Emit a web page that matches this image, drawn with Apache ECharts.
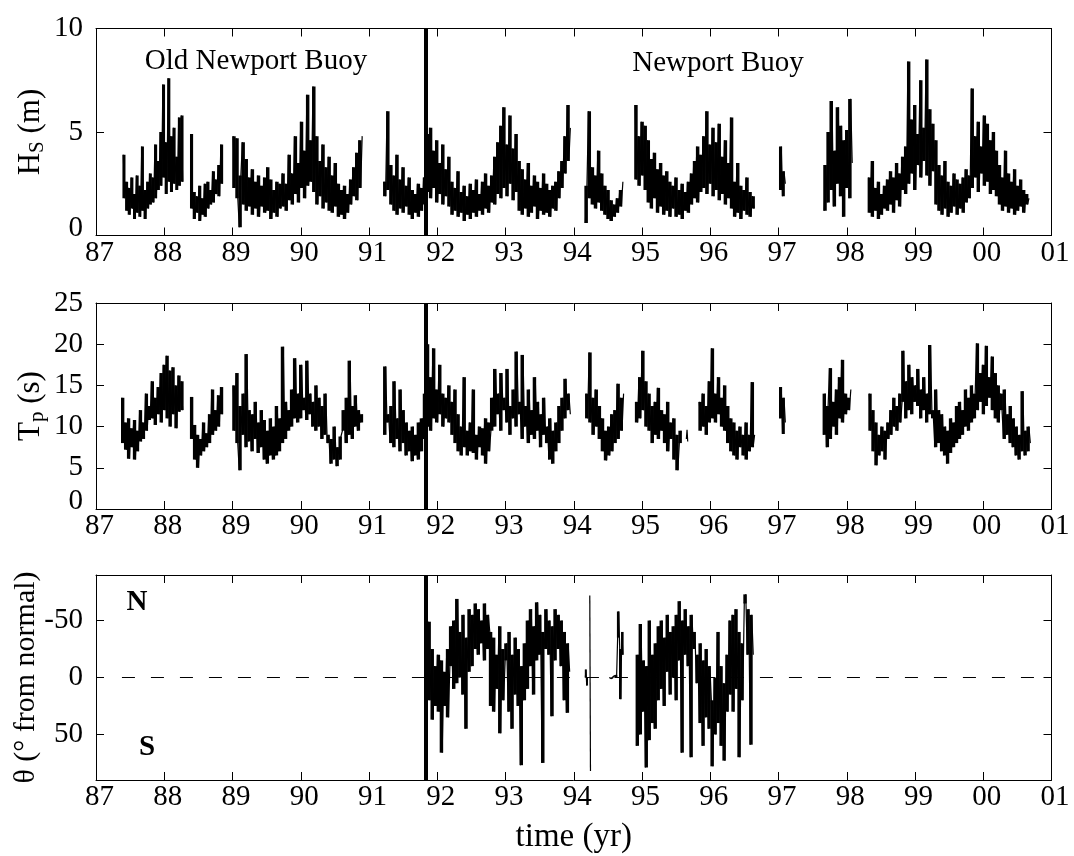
<!DOCTYPE html>
<html><head><meta charset="utf-8">
<script src="https://cdn.jsdelivr.net/npm/echarts@6/dist/echarts.min.js"></script>
<style>html,body{margin:0;padding:0;background:#fff}#c{width:1074px;height:856px}</style>
</head><body><div id="c"></div>
<script>
// ---- time axis ----
const yearMin = 87, yearMax = 101;
const buoySwitchYear = 91.83;

// ---- Hs (m): segment spans [start, end] in years and the sampled values ----
const hsSpans = [[87.40,88.27],[88.39,88.85],[89.01,90.90],[91.22,93.95],[94.17,94.72],[94.90,96.64],[97.02,97.10],[97.67,98.08],[98.32,100.67]];
const hs1 = [3.9,1.8,2.6,1.2,2.3,1.0,2.8,1.3,2.0,0.8,2.9,1.1,2.4,0.9,4.3,1.2,2.2,0.8,2.6,1.3,3.0,1.5,2.8,1.6,4.4,1.8,3.6,2.2,5.0,2.4,7.3,2.8,4.5,2.0,7.6,2.6,4.8,2.1,5.2,2.5,3.8,2.2,5.7,2.4,5.8,2.6];
const hs2 = [4.9,1.3,2.1,0.8,1.9,1.1,2.4,0.7,1.8,1.0,2.5,0.9,2.6,1.3,2.2,1.5,3.1,1.6,2.7,2.0,3.4,1.9,4.4,2.5];
const hs3 = [4.8,2.3,4.7,1.8,0.4,2.9,4.5,1.5,3.7,1.2,2.8,1.4,3.2,1.0,2.6,1.3,2.9,0.9,2.4,1.4,2.8,1.1,3.3,1.2,2.7,0.8,2.2,1.1,2.6,0.9,2.5,1.3,3.0,1.4,2.5,1.2,3.9,1.7,3.0,1.5,4.8,2.0,3.5,1.6,5.5,2.3,4.1,1.8,6.8,2.4,4.6,2.6,7.2,2.1,4.8,1.5,3.6,1.9,4.4,1.3,3.3,1.6,3.8,1.2,2.9,1.1,3.5,1.4,2.5,0.9,2.2,1.0,2.4,0.8,2.0,1.1,2.7,1.5,3.3,1.9,4.0,1.7,4.6,2.3,4.8];
const hs4 = [2.6,1.9,6.0,2.2,3.4,1.5,2.9,1.2,3.9,1.0,2.7,1.3,3.3,1.1,2.4,1.4,2.8,
  1.0,2.2,0.8,2.0,1.1,2.5,0.9,2.3,1.2,2.8,1.5,
  4.9,2.1,5.2,1.8,4.1,2.3,4.6,1.6,3.5,2.0,4.4,1.5,3.2,1.9,3.8,1.4,
  2.6,1.0,2.3,1.2,3.1,0.9,2.1,1.1,2.4,0.7,1.9,1.0,2.5,0.8,2.2,1.1,2.7,0.9,2.0,1.2,2.6,1.0,3.0,1.3,2.4,1.1,2.9,
  1.6,3.8,1.5,4.5,2.0,5.3,1.8,6.2,2.3,4.4,1.9,5.8,2.5,4.2,1.7,4.9,2.1,3.6,
  1.2,3.2,1.0,2.7,1.3,3.5,0.9,2.4,1.1,2.9,1.4,2.6,0.8,2.3,1.2,3.0,1.0,2.5,
  1.1,2.2,0.9,2.4,1.3,2.6,1.2,3.1,1.8,3.6,2.3,4.8,3.0,6.3,3.6,5.2];
const hs5 = [0.6,2.4,6.0,1.8,3.3,1.5,2.9,1.3,4.1,1.6,3.0,1.2,2.4,1.0,2.2,0.8,1.7,0.7,1.5,0.9,1.8,1.1,2.2,1.4,2.6];
const hs6 = [6.3,2.7,4.8,2.4,5.5,2.9,5.3,2.2,4.6,
  1.6,3.7,1.3,4.0,1.8,3.2,1.1,3.5,1.4,2.9,1.0,3.1,1.2,2.6,0.9,2.4,1.3,2.8,
  0.9,2.2,1.0,2.5,0.8,2.1,1.2,2.6,1.1,
  3.0,1.5,3.6,1.8,4.3,1.6,3.9,2.1,4.8,2.3,6.0,2.0,4.4,2.5,
  5.2,1.9,4.5,2.2,5.4,1.7,3.8,2.0,4.6,1.5,3.5,1.8,5.7,
  1.3,2.6,0.9,3.5,1.1,2.4,0.8,2.2,1.2,2.8,1.0,2.1,0.9,1.9,1.3];
const hs7 = [2.2,4.3,1.9,3.1,2.5];
const hs8 = [1.2,3.4,1.6,5.0,2.2,6.5,1.4,4.1,2.5,6.2,1.9,5.3,0.9,4.6,2.3,5.1,1.8,6.6,3.5];
const hs9 = [2.8,1.1,3.6,0.9,2.3,1.2,2.6,0.8,2.0,1.0,2.4,1.3,2.7,
  1.2,3.1,1.5,2.8,1.1,3.5,1.7,3.0,1.4,3.8,2.2,4.3,2.0,
  8.4,2.5,5.6,3.0,6.3,2.2,4.9,3.4,7.5,2.8,5.2,3.6,8.5,2.9,6.1,2.4,5.4,3.1,4.6,
  1.5,3.4,1.2,2.9,1.0,3.6,1.3,2.6,0.9,2.4,1.1,3.0,1.4,2.7,
  1.0,2.5,1.3,2.8,1.1,3.2,1.6,2.9,1.8,
  7.1,2.3,4.8,2.8,5.5,2.1,4.3,3.0,5.8,2.4,5.4,2.6,4.6,2.0,5.0,2.2,4.1,1.9,
  3.4,1.5,2.8,1.2,4.1,1.4,3.0,1.1,2.6,1.3,3.2,1.0,2.4,1.2,2.7,1.4,2.2,1.1,2.0,1.5,1.8];
const hsValues = [hs1,hs2,hs3,hs4,hs5,hs6,hs7,hs8,hs9];

// ---- Tp (s) ----
const tpSpans = [[87.38,88.27],[88.39,88.85],[89.01,90.90],[91.22,93.95],[94.18,94.73],[94.91,95.57],[95.65,95.67],[95.84,96.65],[97.02,97.10],[97.66,98.06],[98.33,100.69]];
const tp1 = [13.5,8.0,10.5,7.2,11.0,6.1,9.8,7.5,10.8,6.0,9.5,7.0,12.0,8.2,10.5,8.5,14.0,9.5,12.5,10.8,15.5,11.0,13.5,10.2,14.8,11.5,16.5,10.5,17.5,12.0,18.6,11.0,16.8,10.0,17.2,11.5,15.0,9.8,16.2,11.8,15.5,12.0];
const tp2 = [13.6,8.5,10.2,6.0,9.0,5.0,8.5,6.5,10.5,7.0,9.2,7.5,11.5,8.0,14.5,9.0,12.0,9.5,13.8,10.0,14.8,11.5];
const tp3 = [15.0,9.5,16.5,8.0,4.7,12.5,9.0,
  14.0,7.5,18.8,8.2,12.0,7.0,11.5,8.5,13.0,6.8,10.5,7.5,12.0,6.0,10.8,5.5,9.5,6.5,11.0,6.0,
  10.0,6.5,12.5,7.0,11.0,8.0,19.7,8.5,13.0,9.5,12.0,10.0,14.5,11.0,
  18.3,10.5,14.0,11.0,17.5,12.0,13.5,10.8,18.0,11.5,14.0,10.0,13.0,
  9.5,15.0,10.0,13.5,8.5,12.5,9.0,14.0,8.0,
  9.0,5.5,8.5,6.0,10.0,5.2,7.5,6.0,8.8,
  9.5,12.0,8.0,13.5,9.0,18.0,8.5,12.5,10.0,13.8,9.5,12.0,10.5,11.5];
const tp4 = [9.0,17.3,10.5,11.5,8.0,12.5,7.5,15.5,8.5,11.0,7.0,14.5,8.0,12.0,6.5,10.5,7.0,
  9.5,5.8,10.0,6.5,9.0,6.0,10.5,7.0,11.0,8.5,14.0,
  20.0,10.0,16.0,9.5,19.5,11.0,14.5,10.5,17.5,11.5,14.0,10.0,13.5,11.0,15.0,10.5,
  13.0,9.0,14.5,8.0,11.5,7.0,10.0,6.5,16.0,7.5,9.5,6.5,10.5,7.0,14.5,6.8,9.0,6.0,10.0,7.5,9.8,6.5,11.0,5.5,10.5,7.0,9.5,
  13.5,10.0,17.0,11.5,14.0,9.5,16.5,12.0,13.5,10.5,17.0,9.0,12.5,11.0,14.5,10.0,19.1,11.5,
  13.0,8.5,18.7,10.0,12.5,8.0,14.5,9.0,12.0,8.5,16.0,9.5,13.0,7.5,11.5,9.0,13.5,8.0,
  10.0,6.0,11.0,5.5,9.5,7.0,10.5,8.0,12.5,9.5,13.5,11.0,15.8,12.0,14.0,11.5];
const tp5 = [14.0,11.0,19.0,10.5,13.5,9.0,14.5,10.0,12.5,8.5,11.0,7.0,9.5,5.9,10.0,6.5,11.5,7.0,12.0,8.0,15.2,8.5,13.5,9.5,14.0];
const tp6 = [13.0,10.5,16.0,11.0,19.2,12.0,15.5,10.0,14.0,9.5,12.5,8.0,13.0,9.0,14.7,8.5,12.0,9.5,11.5,8.0,13.0,7.0,10.5,8.5,11.0,6.0,9.0,4.7,8.0,9.5];
const tp7 = [8.5,9.6,8.2];
const tp8 = [13.0,9.5,14.0,10.0,12.5,9.0,15.5,10.5,19.5,11.0,14.0,10.5,16.0,11.5,13.5,10.0,15.0,9.5,12.5,8.0,11.0,7.0,10.5,6.5,9.5,6.0,10.0,7.5,9.0,6.5,10.5,6.0,9.0,7.0,15.4,7.5,9.0];
const tp9 = [11.0,14.8,9.1,13.5,10.5];
const tp10 = [9.0,14.0,7.5,12.5,17.1,8.5,13.0,10.0,14.5,9.0,16.0,11.0,18.1,10.5,14.0,11.5,13.5,12.0,14.5];
const tp11 = [14.0,9.5,12.0,7.0,10.5,5.3,9.0,6.5,10.0,7.0,9.5,6.0,10.5,
  8.5,12.0,9.0,13.5,10.0,12.5,9.5,14.0,10.5,13.0,
  19.2,11.0,15.5,12.0,17.5,11.5,16.0,13.0,15.0,12.5,17.0,11.0,14.5,12.0,16.0,10.5,14.0,11.5,19.9,12.0,
  11.0,7.5,14.5,8.0,12.0,7.0,11.5,6.5,10.0,5.5,9.5,6.8,11.0,7.5,10.5,8.0,
  12.5,8.5,13.0,9.0,12.0,10.0,14.5,9.5,13.5,10.5,15.0,11.0,14.0,
  20.1,12.0,16.5,13.0,17.5,11.5,19.8,12.5,16.0,13.5,18.5,12.0,16.5,11.0,15.0,10.5,14.0,
  12.0,8.5,14.5,9.0,11.5,8.0,12.5,7.5,11.0,
  6.5,10.0,6.0,9.0,7.0,14.3,6.5,9.5,7.0,10.0,8.0];
const tpValues = [tp1,tp2,tp3,tp4,tp5,tp6,tp7,tp8,tp9,tp10,tp11];

// ---- theta (deg from normal; negative = north) ----
const thSpans = [[91.87,93.94],[94.17,94.21],[94.235,94.245],[94.52,94.72],[94.92,96.63]];
const th1 = [-49,20,-25,37,-10,25,
  -20,30,-15,66,-5,25,-25,35,-10,
  -45,10,-50,5,-69,0,-40,15,-55,45,-35,-5,-60,-10,
  -55,-25,-65,-20,-60,-30,-50,-15,-65,-25,-55,
  -40,25,-35,30,-20,10,-45,49,-25,20,-15,
  -30,30,-40,45,-20,15,-35,25,-25,77,-10,20,-30,10,
  -50,-10,-60,15,-45,-15,-66,-20,-55,75,-40,-25,-60,-20,
  -50,34,-45,-15,-60,-25,-55,-10,-50,20,-40,31,-30,-5];
const th2 = [0,-7,7,0,0];
const th3 = [-72,82];
const th4 = [0,0,1,0,-1,0,-2,0,-35,-58,-25,19,-40,-20];
const th5 = [60,-20,50,-47,
  30,-15,79,-10,55,-50,40,-20,45,
  -30,20,-45,10,-50,25,-35,-5,-55,15,-40,0,-45,20,
  -55,-15,-67,66,-50,-20,-60,-10,-45,70,-55,-25,-40,5,
  -20,40,-30,60,-15,35,-25,45,-10,
  20,78,0,50,-40,40,-10,60,5,73,-20,30,-50,15,
  -55,30,-60,10,-40,70,-30,20,-65,
  -73,-20,-60,59,-55,-20];
const thValues = [th1,th2,th3,th4,th5];

// ---- axis labels / texts ----
const thTicks = [-50,0,50];
const hsName = '{m|H}{sub|S}{m| (m)}';
const tpName = '{m|T}{sub|p}{m| (s)}';
const thName = '{m|θ (° from normal)}';
const xName = 'time (yr)';
const panelTexts = ['Old Newport Buoy','Newport Buoy'];
const dirTexts = ['N','S'];

const FONT = 'Liberation Serif';
const BLACK = '#000';
const DATA_WIDTH = 1.2;

function buildPoints(spans, values) {
  return spans.map((s, k) => {
    const v = values[k], n = v.length;
    return v.map((y, i) => [n > 1 ? s[0] + i * (s[1] - s[0]) / (n - 1) : s[0], y]);
  });
}
// range covered by each consecutive pair of samples: [x, low, high]
function pairRanges(pts) {
  const out = [];
  for (let j = 0; j + 1 < pts.length; j += 2) {
    const a = pts[j], b = pts[j + 1];
    out.push([(a[0] + b[0]) / 2, Math.min(a[1], b[1]), Math.max(a[1], b[1])]);
  }
  return out;
}

const gridDefs = [
  {left: 96, right: 22.5, top: 28.5, height: 207},
  {left: 96, right: 22.5, top: 303, height: 206},
  {left: 96, right: 22.5, top: 575, height: 205}
];

const xLabelFmt = v => { const y = Math.round(v) % 100; return (y < 10 ? '0' : '') + y; };
const yLabelFmt = v => v === 0 ? '{z|0}' : '{n|' + v + '}';
const labelRich = {
  n: {fontFamily: FONT, fontSize: 29, color: BLACK},
  z: {fontFamily: FONT, fontSize: 29, color: BLACK, padding: [0,0,15,0]}
};

const xAxes = [], yAxes = [];
for (let g = 0; g < 3; g++) {
  const base = {
    type: 'value', gridIndex: g, min: yearMin, max: yearMax, interval: 1,
    axisLine: {show: true, onZero: false, lineStyle: {color: BLACK, width: 1}},
    axisTick: {show: true, inside: true, length: 8, lineStyle: {color: BLACK, width: 1}},
    splitLine: {show: false}
  };
  xAxes.push(Object.assign({}, base, {
    position: 'bottom',
    axisLabel: {show: true, formatter: xLabelFmt, fontFamily: FONT, fontSize: 29, color: BLACK, margin: 3, padding: [0,0,0,7]},
    name: g === 2 ? xName : '', nameLocation: 'middle', nameGap: 41, nameMoveOverlap: false,
    nameTextStyle: {fontFamily: FONT, fontSize: 33, color: BLACK}
  }));
  xAxes.push(Object.assign({}, base, {position: 'top', axisLabel: {show: false}}));
}
function yPair(g, opts, name, nameGap, nameRich) {
  const common = {
    type: 'value', gridIndex: g,
    axisLine: {show: true, onZero: false, lineStyle: {color: BLACK, width: 1}},
    splitLine: {show: false}
  };
  const left = Object.assign({}, common, opts, {
    position: 'left',
    axisTick: Object.assign({show: true, inside: true, length: 8, lineStyle: {color: BLACK}}, opts.tickExtra || {}),
    axisLabel: Object.assign({show: true, fontFamily: FONT, fontSize: 29, color: BLACK, margin: 13, formatter: yLabelFmt,
      rich: labelRich}, opts.labelExtra || {}),
    name: name, nameLocation: 'middle', nameGap: nameGap, nameMoveOverlap: false,
    nameTextStyle: {fontFamily: FONT, fontSize: 31, color: BLACK, rich: nameRich}
  });
  const right = Object.assign({}, common, opts, {
    position: 'right',
    axisTick: Object.assign({show: true, inside: true, length: 8, lineStyle: {color: BLACK}}, opts.tickExtra || {}),
    axisLabel: Object.assign({show: false}, opts.labelExtra ? {customValues: opts.labelExtra.customValues} : {})
  });
  delete left.tickExtra; delete left.labelExtra; delete right.tickExtra; delete right.labelExtra;
  return [left, right];
}
const subRich = {
  m: {fontFamily: FONT, fontSize: 31, color: BLACK},
  sub: {fontFamily: FONT, fontSize: 21, color: BLACK, padding: [14,0,0,0]}
};
const plainRich = {m: {fontFamily: FONT, fontSize: 30, color: BLACK}};
yAxes.push(...yPair(0, {min: 0, max: 10, interval: 5}, hsName, 48, subRich));
yAxes.push(...yPair(1, {min: 0, max: 25, interval: 5}, tpName, 48, subRich));
yAxes.push(...yPair(2, {min: -90, max: 90, inverse: true,
  tickExtra: {customValues: thTicks},
  labelExtra: {customValues: thTicks, formatter: v => '{n|' + v + '}'}}, thName, 55, plainRich));

const series = [];
function addPanel(g, spans, values, extraMark) {
  buildPoints(spans, values).forEach((pts, k) => {
    // dense core: a min-max bar for each pair of consecutive samples
    const rng = pairRanges(pts);
    if (rng.length > 1) {
      const step = rng[1][0] - rng[0][0];
      series.push({
        type: 'custom', xAxisIndex: 2 * g, yAxisIndex: 2 * g, data: rng, silent: true, clip: true, z: 2,
        encode: {x: 0, y: [1, 2]},
        renderItem: (params, api) => {
          const x = api.value(0);
          const pLo = api.coord([x, api.value(1)]);
          const pHi = api.coord([x, api.value(2)]);
          const w = api.size([step, 0])[0] + 0.4;
          const y0 = Math.min(pLo[1], pHi[1]);
          return {type: 'rect', shape: {x: pLo[0] - w / 2, y: y0, width: w, height: Math.abs(pLo[1] - pHi[1])},
            style: {fill: BLACK}};
        }
      });
    }
    const s = {
      type: 'line', xAxisIndex: 2 * g, yAxisIndex: 2 * g, data: pts,
      showSymbol: false, symbol: 'none', silent: true, animation: false,
      lineStyle: {color: BLACK, width: DATA_WIDTH}, z: 3
    };
    if (k === 0) {
      const md = [{xAxis: buoySwitchYear, lineStyle: {color: BLACK, width: 4, type: 'solid'}}];
      if (extraMark) md.push(extraMark);
      s.markLine = {silent: true, symbol: ['none', 'none'], label: {show: false}, animation: false, data: md};
    }
    series.push(s);
  });
}
addPanel(0, hsSpans, hsValues);
addPanel(1, tpSpans, tpValues);
addPanel(2, thSpans, thValues, [
  {coord: [87.38, 0], lineStyle: {color: BLACK, width: 1.2, type: [13, 16]}},
  {coord: [yearMax, 0], lineStyle: {color: BLACK, width: 1.2, type: [13, 16]}}
]);

const chart = echarts.init(document.getElementById('c'), null, {renderer: 'canvas'});
chart.setOption({
  backgroundColor: '#fff',
  animation: false,
  grid: gridDefs,
  xAxis: xAxes,
  yAxis: yAxes,
  series: series,
  graphic: [
    {type: 'text', x: 256, y: 61, style: {text: panelTexts[0], font: '29px "Liberation Serif"', fill: BLACK, textAlign: 'center', textVerticalAlign: 'middle'}},
    {type: 'text', x: 718, y: 63, style: {text: panelTexts[1], font: '29px "Liberation Serif"', fill: BLACK, textAlign: 'center', textVerticalAlign: 'middle'}},
    {type: 'text', x: 137, y: 603, style: {text: dirTexts[0], font: 'bold 29px "Liberation Serif"', fill: BLACK, textAlign: 'center', textVerticalAlign: 'middle'}},
    {type: 'text', x: 147, y: 748, style: {text: dirTexts[1], font: 'bold 29px "Liberation Serif"', fill: BLACK, textAlign: 'center', textVerticalAlign: 'middle'}}
  ]
});
</script>
</body></html>
